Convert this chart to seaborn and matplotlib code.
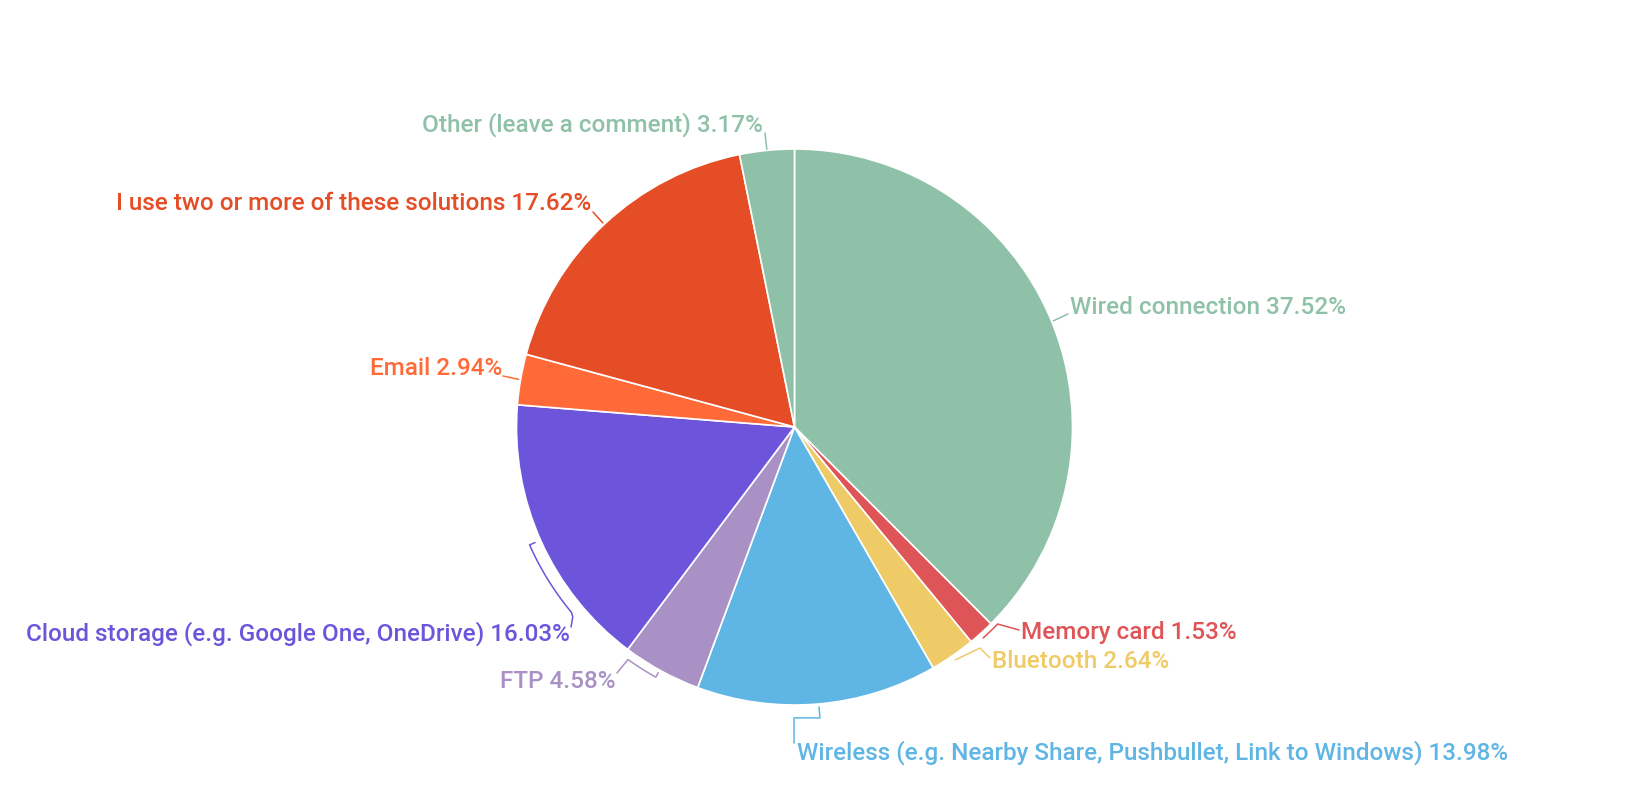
import numpy as np
import seaborn as sns
import matplotlib
matplotlib.use('Agg')
import matplotlib.pyplot as plt

# datos del grafico
categorias = ['Wired connection', 'Memory card', 'Bluetooth',
              'Wireless (e.g. Nearby Share, Pushbullet, Link to Windows)',
              'FTP', 'Cloud storage (e.g. Google One, OneDrive)', 'Email',
              'I use two or more of these solutions', 'Other (leave a comment)']
porcentajes = [37.52, 1.53, 2.64, 13.98, 4.58, 16.03, 2.94, 17.62, 3.17]
colores = ['#8fc1a9', '#df5456', '#efcb67', '#5fb5e4', '#a991c6',
           '#6c55db', '#ff6a38', '#e44d26', '#8fc1a9']

sns.set_theme(style='white')
plt.rcParams['font.family'] = ['Roboto', 'DejaVu Sans']

W, H = 1637, 788
fig = plt.figure(figsize=(W / 100, H / 100), dpi=100)
ax = fig.add_axes([0, 0, 1, 1])

cx, cy, R = 794.5, H - 427, 278
ax.pie(porcentajes, colors=colores, startangle=90, counterclock=False,
       center=(cx, cy), radius=R,
       wedgeprops={'edgecolor': 'white', 'linewidth': 1.2})
ax.set_xlim(0, W)
ax.set_ylim(0, H)
ax.set_aspect('equal')
ax.axis('off')


def polar(ang, rad):
    # angulo en grados, horario desde arriba
    a = np.radians(ang)
    return cx + rad * np.sin(a), cy + rad * np.cos(a)


# posiciones de etiquetas (pixeles, y desde arriba), alineacion y guias
etiquetas = {
    0: (1070, 307, 'left', [(67.7, 280)], (1068, 314)),
    1: (1021, 633, 'left', [(138.2, 283), (133.9, 285)], (1019, 630)),
    2: (992, 662, 'left', [(145.4, 283), (140.0, 288.5)], (990, 658)),
    3: (797, 753, 'left', [(175.0, 281), (175.0, 292)], None),
    4: (616, 681, 'right', [(209.0, 281), (209.0, 286), (215.6, 286)], (617, 673)),
    5: (570, 634, 'right', [(246.0, 284), (246.0, 290), (229.4, 292)], (571, 627)),
    6: (502, 368, 'right', [(279.8, 280)], (503, 376)),
    7: (591, 203, 'right', [(316.8, 280)], (593, 212)),
    8: (763, 125, 'right', [(354.3, 279)], (765, 133)),
}

for i, (tx, ty, ha, guia, fin) in etiquetas.items():
    col = colores[i]
    ax.text(tx, H - ty, f'{categorias[i]} {porcentajes[i]:.2f}%', color=col,
            fontsize=17.5, fontweight='medium', ha=ha, va='center')
    pts = []
    for k, (ang, rad) in enumerate(guia):
        pts.append(polar(ang, rad))
        # seguir el arco entre puntos con mismo radio
        if k + 1 < len(guia) and abs(guia[k + 1][1] - rad) < 3 and guia[k + 1][0] != ang:
            for a in np.linspace(ang, guia[k + 1][0], 20)[1:-1]:
                pts.append(polar(a, rad))
    if i == 3:
        px, py = pts[-1]
        pts.append((794, py))
        pts.append((794, H - 743))
    elif fin is not None:
        pts.append((fin[0], H - fin[1]))
    xs, ys = zip(*pts)
    ax.plot(xs, ys, color=col, linewidth=1.1)

fig.savefig('out.png', dpi=100, facecolor='white')
